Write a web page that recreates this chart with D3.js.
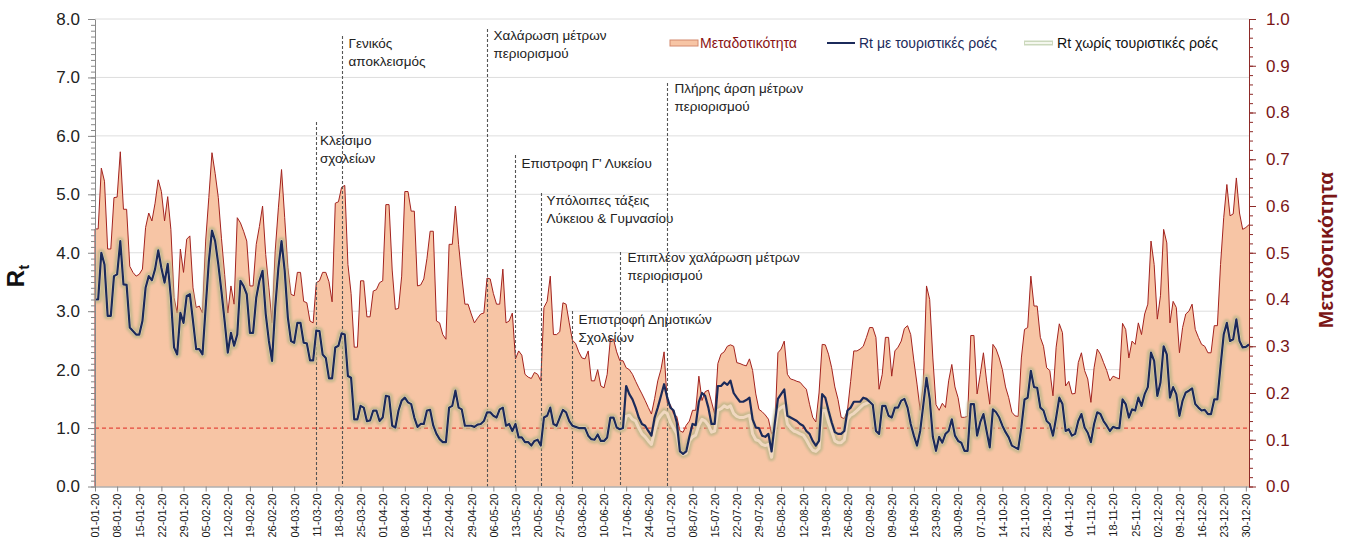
<!DOCTYPE html>
<html>
<head>
<meta charset="utf-8">
<script src="https://cdn.jsdelivr.net/npm/d3@7"></script>
<style>
	body { margin: 0; background: #fff; }
	svg { display: block; font-family: Arial, "Liberation Sans", sans-serif; }
</style>
</head>
<body>
<div id="chart"></div>
<script>
// daily values, 01-01-2020 .. 31-12-2020
const startDate = new Date(2020, 0, 1);

// Μεταδοτικότητα (right axis)
const transmissibility = [
	0.551,0.551,0.681,0.653,0.508,0.508,0.618,0.619,0.716,0.593,
	0.593,0.471,0.458,0.45,0.454,0.465,0.554,0.585,0.568,0.606,
	0.656,0.631,0.568,0.62,0.55,0.404,0.371,0.508,0.458,0.529,
	0.536,0.425,0.383,0.386,0.371,0.525,0.618,0.714,0.67,0.618,
	0.531,0.454,0.371,0.429,0.39,0.575,0.564,0.546,0.525,0.429,
	0.429,0.518,0.556,0.6,0.496,0.425,0.35,0.504,0.596,0.678,
	0.575,0.468,0.411,0.408,0.458,0.458,0.396,0.393,0.354,0.35,
	0.436,0.44,0.458,0.458,0.438,0.395,0.606,0.609,0.64,0.644,
	0.475,0.413,0.298,0.298,0.44,0.44,0.363,0.363,0.418,0.421,
	0.436,0.44,0.603,0.603,0.463,0.379,0.381,0.45,0.631,0.631,
	0.589,0.589,0.429,0.431,0.444,0.488,0.546,0.546,0.354,0.35,
	0.325,0.315,0.518,0.518,0.6,0.518,0.45,0.39,0.39,0.369,
	0.35,0.36,0.369,0.371,0.446,0.444,0.413,0.39,0.39,0.465,
	0.35,0.354,0.371,0.273,0.29,0.281,0.24,0.234,0.231,0.244,
	0.24,0.226,0.383,0.396,0.45,0.325,0.325,0.331,0.393,0.39,
	0.35,0.313,0.306,0.288,0.275,0.273,0.29,0.226,0.226,0.25,
	0.215,0.211,0.24,0.315,0.315,0.288,0.269,0.269,0.254,0.25,
	0.24,0.225,0.211,0.198,0.184,0.169,0.155,0.188,0.226,0.25,
	0.288,0.179,0.175,0.155,0.15,0.119,0.116,0.131,0.14,0.163,
	0.163,0.236,0.184,0.203,0.206,0.181,0.155,0.263,0.283,0.288,
	0.3,0.303,0.3,0.265,0.263,0.26,0.258,0.273,0.248,0.198,
	0.165,0.16,0.153,0.144,0.113,0.119,0.286,0.294,0.311,0.24,
	0.23,0.228,0.225,0.223,0.215,0.208,0.176,0.148,0.138,0.2,
	0.304,0.303,0.283,0.254,0.213,0.186,0.148,0.145,0.163,0.225,
	0.29,0.29,0.294,0.3,0.319,0.34,0.34,0.319,0.208,0.24,
	0.319,0.319,0.236,0.29,0.298,0.311,0.338,0.344,0.325,0.269,
	0.219,0.163,0.219,0.429,0.4,0.275,0.175,0.163,0.178,0.169,
	0.226,0.261,0.213,0.19,0.148,0.148,0.15,0.323,0.323,0.198,
	0.24,0.286,0.226,0.176,0.304,0.294,0.275,0.25,0.213,0.19,
	0.159,0.151,0.15,0.275,0.336,0.34,0.45,0.386,0.386,0.319,
	0.3,0.254,0.248,0.194,0.298,0.348,0.329,0.215,0.225,0.198,
	0.199,0.265,0.286,0.248,0.23,0.18,0.254,0.294,0.283,0.265,
	0.248,0.226,0.236,0.233,0.23,0.349,0.336,0.275,0.311,0.304,
	0.35,0.325,0.369,0.39,0.525,0.475,0.358,0.408,0.55,0.521,
	0.35,0.396,0.383,0.286,0.34,0.369,0.375,0.39,0.336,0.319,
	0.304,0.3,0.286,0.286,0.344,0.344,0.475,0.575,0.646,0.579,
	0.583,0.66,0.585,0.55,0.554,0.56
];

// Rt με τουριστικές ροές (left axis)
const rtWithTourism = [
	3.2,3.2,4.0,3.8,2.92,2.92,3.6,3.63,4.2,3.46,
	3.45,2.72,2.66,2.6,2.6,2.83,3.4,3.6,3.53,3.72,
	4.04,3.74,3.49,3.81,3.23,2.38,2.26,2.97,2.8,3.26,
	3.29,2.83,2.35,2.35,2.26,3.06,3.85,4.38,4.2,3.8,
	3.34,2.83,2.29,2.63,2.41,2.6,3.52,3.43,3.29,2.63,
	2.63,3.23,3.52,3.69,2.95,2.49,2.15,3.06,3.74,4.2,
	3.69,2.89,2.49,2.46,2.8,2.8,2.46,2.45,2.16,2.16,
	2.67,2.66,2.26,2.2,1.85,1.85,2.38,2.41,2.62,2.6,
	1.89,1.86,1.15,1.15,1.38,1.35,1.12,1.13,1.3,1.3,
	1.12,1.18,1.55,1.54,1.04,1.01,1.3,1.47,1.52,1.44,
	1.41,1.18,1.02,1.07,1.07,1.3,1.31,1.04,0.9,0.81,
	0.76,0.76,1.35,1.38,1.64,1.35,1.32,1.04,1.04,1.04,
	1.02,1.06,1.07,1.12,1.27,1.27,1.21,1.18,1.32,1.35,
	1.04,1.07,0.95,1.07,0.84,0.84,0.76,0.76,0.7,0.78,
	0.8,0.7,1.18,1.21,1.35,1.07,1.04,1.18,1.31,1.27,
	1.12,1.04,1.02,1.0,1.0,1.0,0.87,0.81,0.8,0.89,
	0.78,0.78,0.84,1.18,1.18,1.01,0.98,1.0,1.72,1.58,
	1.49,1.35,1.18,1.07,1.04,0.95,0.87,1.18,1.35,1.55,
	1.75,1.52,1.35,1.3,1.1,0.6,0.56,0.6,0.85,1.07,
	1.05,1.45,1.6,1.55,1.35,1.07,1.07,1.72,1.72,1.78,
	1.74,1.81,1.6,1.52,1.45,1.45,1.48,1.52,1.15,1.01,
	1.0,0.87,0.85,0.9,0.6,1.07,1.5,1.58,1.66,1.21,
	1.18,1.15,1.12,1.07,1.04,0.95,0.9,0.78,0.7,0.78,
	1.58,1.52,1.3,1.1,0.93,0.9,0.9,0.95,1.3,1.35,
	1.45,1.45,1.45,1.52,1.5,1.45,1.4,0.95,0.9,1.38,
	1.38,1.21,1.18,1.35,1.35,1.47,1.5,1.35,1.07,0.87,
	0.7,0.95,1.4,1.86,1.5,0.85,0.61,0.85,0.75,0.9,
	0.95,1.15,0.87,0.78,0.75,0.61,0.61,1.41,1.41,0.87,
	1.1,1.24,0.95,0.67,1.32,1.27,1.18,1.04,0.93,0.84,
	0.7,0.67,0.64,1.01,1.49,1.52,1.98,1.7,1.69,1.35,
	1.3,1.12,1.07,0.87,1.18,1.52,1.41,0.95,0.98,0.87,
	0.9,1.12,1.24,1.01,0.92,0.76,1.07,1.27,1.24,1.12,
	1.04,0.95,1.02,1.0,1.0,1.49,1.41,1.18,1.32,1.3,
	1.52,1.38,1.58,1.7,2.29,2.15,1.55,1.78,2.4,2.26,
	1.52,1.7,1.58,1.21,1.47,1.61,1.64,1.68,1.41,1.35,
	1.3,1.31,1.24,1.24,1.49,1.49,2.06,2.6,2.8,2.49,
	2.52,2.86,2.49,2.38,2.39,2.43
];

// Rt χωρίς τουριστικές ροές (left axis)
const rtWithoutTourism = [
	3.2,3.2,4.0,3.8,2.92,2.92,3.6,3.63,4.2,3.46,
	3.45,2.72,2.66,2.6,2.6,2.83,3.4,3.6,3.53,3.72,
	4.04,3.74,3.49,3.81,3.23,2.38,2.26,2.97,2.8,3.26,
	3.29,2.83,2.35,2.35,2.26,3.06,3.85,4.38,4.2,3.8,
	3.34,2.83,2.29,2.63,2.41,2.6,3.52,3.43,3.29,2.63,
	2.63,3.23,3.52,3.69,2.95,2.49,2.15,3.06,3.74,4.2,
	3.69,2.89,2.49,2.46,2.8,2.8,2.46,2.45,2.16,2.16,
	2.67,2.66,2.26,2.2,1.85,1.85,2.38,2.41,2.62,2.6,
	1.89,1.86,1.15,1.15,1.38,1.35,1.12,1.13,1.3,1.3,
	1.12,1.18,1.55,1.54,1.04,1.01,1.3,1.47,1.52,1.44,
	1.41,1.18,1.02,1.07,1.07,1.3,1.31,1.04,0.9,0.81,
	0.76,0.76,1.35,1.38,1.64,1.35,1.32,1.04,1.04,1.04,
	1.02,1.06,1.07,1.12,1.27,1.27,1.21,1.18,1.32,1.35,
	1.04,1.07,0.95,1.07,0.84,0.84,0.76,0.76,0.7,0.78,
	0.8,0.7,1.18,1.21,1.35,1.07,1.04,1.18,1.31,1.27,
	1.12,1.04,1.02,1.0,1.0,1.0,0.87,0.81,0.8,0.89,
	0.78,0.78,0.84,1.18,1.18,1.01,0.98,1.0,1.2,1.22,
	1.15,1.12,1.0,0.9,0.85,0.78,0.72,0.95,1.14,1.22,
	1.28,1.25,1.1,1.0,0.9,0.6,0.55,0.57,0.78,0.85,
	0.88,1.05,1.15,1.12,1.05,0.93,0.95,1.3,1.33,1.38,
	1.35,1.38,1.25,1.2,1.18,1.18,1.2,1.22,0.9,0.8,
	0.78,0.72,0.7,0.72,0.5,0.95,1.3,1.35,1.38,1.07,
	1.0,0.95,0.93,0.9,0.88,0.8,0.7,0.62,0.6,0.65,
	1.3,1.3,1.1,0.95,0.78,0.75,0.75,0.8,1.15,1.22,
	1.25,1.3,1.35,1.4,1.42,1.45,1.4,0.95,0.9,1.38,
	1.38,1.21,1.18,1.35,1.35,1.47,1.5,1.35,1.07,0.87,
	0.7,0.95,1.4,1.86,1.5,0.85,0.61,0.85,0.75,0.9,
	0.95,1.15,0.87,0.78,0.75,0.61,0.61,1.41,1.41,0.87,
	1.1,1.24,0.95,0.67,1.32,1.27,1.18,1.04,0.93,0.84,
	0.7,0.67,0.64,1.01,1.49,1.52,1.98,1.7,1.69,1.35,
	1.3,1.12,1.07,0.87,1.18,1.52,1.41,0.95,0.98,0.87,
	0.9,1.12,1.24,1.01,0.92,0.76,1.07,1.27,1.24,1.12,
	1.04,0.95,1.02,1.0,1.0,1.49,1.41,1.18,1.32,1.3,
	1.52,1.38,1.58,1.7,2.29,2.15,1.55,1.78,2.4,2.26,
	1.52,1.7,1.58,1.21,1.47,1.61,1.64,1.68,1.41,1.35,
	1.3,1.31,1.24,1.24,1.49,1.49,2.06,2.6,2.8,2.49,
	2.52,2.86,2.49,2.38,2.39,2.43
];

const eventDates = ["2020-03-11", "2020-03-19", "2020-05-04", "2020-05-13", "2020-05-21", "2020-05-31", "2020-06-15", "2020-06-30"];
const eventLabels = [
	["Κλείσιμο", "σχολείων"],
	["Γενικός", "αποκλεισμός"],
	["Χαλάρωση μέτρων", "περιορισμού"],
	["Επιστροφη Γ' Λυκείου"],
	["Υπόλοιπες τάξεις", "Λύκειου & Γυμνασίου"],
	["Επιστροφή Δημοτικών", "Σχολείων"],
	["Επιπλέον χαλάρωση μέτρων", "περιορισμού"],
	["Πλήρης άρση μέτρων", "περιορισμού"]
];

const rtTicks = d3.range(0, 8.01, 1);
const transTicks = d3.range(0, 1.001, 0.1);
const legendLabels = ["Μεταδοτικότητα", "Rt με τουριστικές ροές", "Rt χωρίς τουριστικές ροές"];

const w = 1349;
const h = 542;
const plotLeft = 95;
const plotRight = 1249;
const plotTop = 19;
const plotBottom = 486.5;

const dates = transmissibility.map((d, i) => d3.timeDay.offset(startDate, i));
const parseDate = d3.timeParse("%Y-%m-%d");
const fmt = d3.timeFormat("%d-%m-%y");

const x = d3.scaleTime().domain([startDate, dates[dates.length - 1]]).range([plotLeft, plotRight]);
const yRt = d3.scaleLinear().domain([0, 8]).range([plotBottom, plotTop]);
const yTr = d3.scaleLinear().domain([0, 1]).range([plotBottom, plotTop]);

const svg = d3.select("#chart").append("svg").attr("width", w).attr("height", h);

const defs = svg.append("defs");
defs.append("filter").attr("id", "soft")
	.attr("x", "-5%").attr("y", "-20%").attr("width", "110%").attr("height", "140%")
	.append("feGaussianBlur").attr("stdDeviation", 0.8);

// grid
svg.append("g")
	.selectAll("line")
	.data(rtTicks.slice(1))
	.enter()
	.append("line")
	.attr("x1", plotLeft).attr("x2", plotRight)
	.attr("y1", (d) => yRt(d)).attr("y2", (d) => yRt(d))
	.attr("stroke", "#dedede").attr("stroke-width", 1);

// transmissibility area
const area = d3.area()
	.x((d, i) => x(dates[i]))
	.y0(yTr(0))
	.y1((d) => yTr(d));
svg.append("path").datum(transmissibility)
	.attr("d", area)
	.attr("fill", "#f7c5a5");
const topLine = d3.line().x((d, i) => x(dates[i])).y((d) => yTr(d));
svg.append("path").datum(transmissibility)
	.attr("d", (d) => "M" + plotLeft + "," + yTr(0) + topLine(d).replace(/^M/, "L"))
	.attr("fill", "none").attr("stroke", "#a3231f").attr("stroke-width", 1);

// Rt = 1 reference
svg.append("line")
	.attr("x1", plotLeft).attr("x2", plotRight)
	.attr("y1", yRt(1)).attr("y2", yRt(1))
	.attr("stroke", "#e5483c").attr("stroke-width", 1.2)
	.attr("stroke-dasharray", "4,3");

// event lines + labels
const eventTop = [122, 36, 29, 155, 193, 311, 252, 83];
const eventTextY = [140, 43, 35, 163, 200, 319, 257, 88];
const eventDx = [3.5, 6, 6, 6, 5, 6, 7, 7];
const ev = svg.append("g");
eventDates.forEach((s, i) => {
	const ex = Math.round(x(parseDate(s))) + 0.5;
	ev.append("line")
		.attr("x1", ex).attr("x2", ex)
		.attr("y1", eventTop[i]).attr("y2", plotBottom)
		.attr("stroke", "#555").attr("stroke-width", 1.1)
		.attr("stroke-dasharray", "3,2");
	const t = ev.append("text")
		.attr("x", ex + eventDx[i]).attr("y", eventTextY[i])
		.attr("font-size", 13.5).attr("fill", "#222")
		.attr("dominant-baseline", "central");
	eventLabels[i].forEach((l, j) => {
		t.append("tspan").attr("x", ex + eventDx[i]).attr("dy", j === 0 ? 0 : 17.5).text(l);
	});
});

// Rt lines
const rtLine = d3.line().x((d, i) => x(dates[i])).y((d) => yRt(d));
svg.append("path").datum(rtWithoutTourism)
	.attr("d", rtLine)
	.attr("fill", "none").attr("stroke", "#c0b68a").attr("stroke-width", 7.5)
	.attr("stroke-opacity", 0.85).attr("stroke-linejoin", "round")
	.attr("filter", "url(#soft)");
svg.append("path").datum(rtWithoutTourism)
	.attr("d", rtLine)
	.attr("fill", "none").attr("stroke", "#f0d8c0").attr("stroke-width", 3)
	.attr("stroke-linejoin", "round");
svg.append("path").datum(rtWithTourism)
	.attr("d", rtLine)
	.attr("fill", "none").attr("stroke", "#1b2a5a").attr("stroke-width", 2.2)
	.attr("stroke-linejoin", "round");

// axes
const weekTicks = d3.range(0, dates.length, 7).map((i) => dates[i]);
const xAxis = svg.append("g")
	.attr("transform", "translate(0," + plotBottom + ")")
	.call(d3.axisBottom(x).tickValues(weekTicks).tickFormat(fmt).tickSize(5).tickSizeOuter(0));
xAxis.select(".domain").attr("stroke", "#888");
xAxis.selectAll(".tick line").attr("stroke", "#888");
xAxis.selectAll("text")
	.attr("transform", "rotate(-90)")
	.attr("x", -7).attr("y", 0).attr("dy", "0.35em")
	.style("text-anchor", "end")
	.attr("font-size", 11).attr("fill", "#1a1a1a");

const yMinor = svg.append("g")
	.attr("transform", "translate(" + plotLeft + ",0)")
	.call(d3.axisLeft(yRt).tickValues(d3.range(0, 8.001, 0.1)).tickFormat("").tickSize(4).tickSizeOuter(0));
yMinor.selectAll("line").attr("stroke", "#888");
yMinor.select(".domain").attr("stroke", "#888");
const yAxis = svg.append("g")
	.attr("transform", "translate(" + plotLeft + ",0)")
	.call(d3.axisLeft(yRt).tickValues(rtTicks).tickFormat(d3.format(".1f")).tickSize(7).tickPadding(8).tickSizeOuter(0));
yAxis.select(".domain").remove();
yAxis.selectAll("line").attr("stroke", "#888");
yAxis.selectAll("text").attr("font-size", 17).attr("fill", "#222");

const rMinor = svg.append("g")
	.attr("transform", "translate(" + plotRight + ",0)")
	.call(d3.axisRight(yTr).tickValues(d3.range(0, 1.0001, 0.02)).tickFormat("").tickSize(4).tickSizeOuter(0));
rMinor.selectAll("line").attr("stroke", "#8e2a28");
rMinor.select(".domain").attr("stroke", "#8e2a28");
const rAxis = svg.append("g")
	.attr("transform", "translate(" + plotRight + ",0)")
	.call(d3.axisRight(yTr).tickValues(transTicks).tickFormat(d3.format(".1f")).tickSize(7).tickPadding(10).tickSizeOuter(0));
rAxis.select(".domain").remove();
rAxis.selectAll("line").attr("stroke", "#8e2a28");
rAxis.selectAll("text").attr("font-size", 17).attr("fill", "#7a1616");

// axis titles
const rtTitle = svg.append("text")
	.attr("transform", "translate(24,276) rotate(-90)")
	.attr("text-anchor", "middle")
	.attr("font-size", 24).attr("font-weight", "bold").attr("fill", "#111");
rtTitle.append("tspan").text("R");
rtTitle.append("tspan").attr("font-size", 15).attr("dy", 5).text("t");

svg.append("text")
	.attr("transform", "translate(1333,250) rotate(-90)")
	.attr("text-anchor", "middle")
	.attr("font-size", 21).attr("font-weight", "bold").attr("fill", "#7b1616")
	.text("Μεταδοτικότητα");

// legend
const lg = svg.append("g").attr("font-family", "'Liberation Sans Narrow', 'Arial Narrow', Arial, sans-serif").attr("font-size", 14);
lg.append("rect").attr("x", 670).attr("y", 40).attr("width", 28).attr("height", 6)
	.attr("fill", "#f7c5a5").attr("stroke", "#d48a6e").attr("stroke-width", 1);
lg.append("text").attr("x", 700).attr("y", 43).attr("dominant-baseline", "central")
	.attr("fill", "#8b1414").attr("textLength", 97).attr("lengthAdjust", "spacingAndGlyphs")
	.text(legendLabels[0]);
lg.append("line").attr("x1", 827).attr("x2", 855).attr("y1", 43).attr("y2", 43)
	.attr("stroke", "#1b2a5a").attr("stroke-width", 2);
lg.append("text").attr("x", 859).attr("y", 43).attr("dominant-baseline", "central")
	.attr("fill", "#1b2a5a").attr("textLength", 138).attr("lengthAdjust", "spacingAndGlyphs")
	.text(legendLabels[1]);
lg.append("line").attr("x1", 1024).attr("x2", 1053).attr("y1", 43).attr("y2", 43)
	.attr("stroke", "#cbd8bc").attr("stroke-width", 5);
lg.append("line").attr("x1", 1025).attr("x2", 1052).attr("y1", 43).attr("y2", 43)
	.attr("stroke", "#f4f7ee").attr("stroke-width", 2);
lg.append("text").attr("x", 1057).attr("y", 43).attr("dominant-baseline", "central")
	.attr("fill", "#111").attr("textLength", 161).attr("lengthAdjust", "spacingAndGlyphs")
	.text(legendLabels[2]);
</script>
</body>
</html>
